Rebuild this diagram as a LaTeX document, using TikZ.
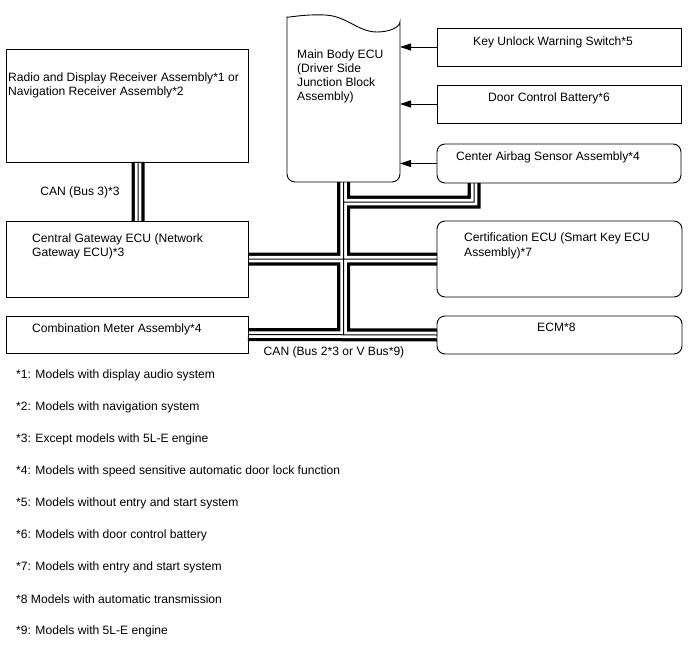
\documentclass[tikz,border=0pt]{standalone}
\usepackage{fontspec}
\setmainfont{Liberation Sans}
\usetikzlibrary{arrows.meta, positioning, backgrounds}

% all CAN bus runs, drawn three times (outer, gap, inner wire)
\newcommand{\canpaths}{%
  ([xshift=11pt]rad.south) -- ([xshift=11pt]gw.north)
  (gw.east) -- (cert.west)
  (cmb.east) -- (ecm.west)
  (ecu.south) -- (ecu.south |- cmb.east)
  ([xshift=-85pt]air.south) |- (abj)}

\begin{document}
\begin{tikzpicture}[
    x=1pt, y=1pt,
    box/.style={draw, line width=0.9pt, inner sep=0pt, outer sep=0pt, anchor=north west},
    rbox/.style={box, rounded corners=8pt},
    lbl/.style={anchor=west, align=left, inner sep=0pt, font=\fontsize{12.1}{14.5}\selectfont},
    sig/.style={-{Triangle[length=11pt, width=7pt]}, line width=0.8pt},
    canouter/.style={line width=13pt, black},
    canmid/.style={line width=6.5pt, white},
    caninner/.style={line width=1pt, black}
  ]
  \useasboundingbox (0,0) rectangle (688,-658);

  % left column
  \node[box, minimum width=242pt, minimum height=113pt] (rad) at (6,-49) {};
  \node[box, minimum width=242pt, minimum height=76pt, below=59pt of rad.south west, anchor=north west] (gw) {};
  \node[box, minimum width=242pt, minimum height=37pt, below=19pt of gw.south west, anchor=north west] (cmb) {};

  % main body ECU (outline drawn below)
  \node[inner sep=0pt, outer sep=0pt, anchor=north west, minimum width=113pt, minimum height=160pt] (ecu) at (287,-22) {};
  \draw[line width=0.9pt] ([yshift=-3pt]ecu.north west)
    .. controls +(0,7) and +(-22,1) .. ([xshift=38pt, yshift=7pt]ecu.north west)
    .. controls +(22,-1) and +(-19,0) .. ([xshift=90pt, yshift=-10pt]ecu.north west)
    .. controls +(13,0) and +(0,-5) .. (ecu.north east)
    [rounded corners=8pt] -- (ecu.south east) -- (ecu.south west) -- cycle;
  \coordinate (abj) at ([yshift=-20pt]ecu.south);

  % right column
  \node[box, minimum width=244pt, minimum height=38pt] (key) at (437,-28) {};
  \node[box, minimum width=244pt, minimum height=38pt, below=19pt of key.south west, anchor=north west] (door) {};
  \node[rbox, minimum width=244pt, minimum height=39pt, below=21pt of door.south west, anchor=north west] (air) {};
  \node[rbox, minimum width=245pt, minimum height=76pt, below=38pt of air.south west, anchor=north west] (cert) {};
  \node[rbox, minimum width=245pt, minimum height=38pt, below=19pt of cert.south west, anchor=north west] (ecm) {};

  % texts
  \node[lbl] (radtxt) at ([xshift=2pt, yshift=-36.5pt]rad.north west) {Radio and Display Receiver Assembly*1 or\\Navigation Receiver Assembly*2};
  \node[lbl] (gwtxt) at ([xshift=26pt, yshift=-25.5pt]gw.north west) {Central Gateway ECU (Network\\Gateway ECU)*3};
  \node[lbl] (cmbtxt) at ([xshift=26pt, yshift=-13pt]cmb.north west) {Combination Meter Assembly*4};
  \node[lbl, font=\fontsize{12.1}{14}\selectfont] (ecutxt) at ([xshift=10pt, yshift=-54pt]ecu.north west) {Main Body ECU\\(Driver Side\\Junction Block\\Assembly)};
  \node[lbl] (keytxt) at ([xshift=36pt, yshift=-14pt]key.north west) {Key Unlock Warning Switch*5};
  \node[lbl] (doortxt) at ([xshift=51pt, yshift=-13pt]door.north west) {Door Control Battery*6};
  \node[lbl] (airtxt) at ([xshift=19pt, yshift=-13pt]air.north west) {Center Airbag Sensor Assembly*4};
  \node[lbl] (certtxt) at ([xshift=27pt, yshift=-25pt]cert.north west) {Certification ECU (Smart Key ECU\\Assembly)*7};
  \node[lbl] (ecmtxt) at ([xshift=100pt, yshift=-11pt]ecm.north west) {ECM*8};

  % signal lines into the main body ECU
  \draw[sig] (key.west) -- (key.west -| ecu.east);
  \draw[sig] (door.west) -- (door.west -| ecu.east);
  \draw[sig] (air.west) -- (air.west -| ecu.east);

  % CAN bus
  \begin{scope}[on background layer]
    \foreach \layer in {canouter, canmid, caninner}
      \draw[\layer] \canpaths;
  \end{scope}
  \node[lbl, anchor=center] (can3) at ([xshift=-47pt, yshift=-30pt]rad.south) {CAN (Bus 3)*3};
  \node[lbl, anchor=center] (can2) at ([xshift=86pt, yshift=-17.5pt]cmb.east) {CAN (Bus 2*3 or V Bus*9)};

  % notes
  \foreach \txt [count=\i] in {
      {*1: Models with display audio system},
      {*2: Models with navigation system},
      {*3: Except models with 5L-E engine},
      {*4: Models with speed sensitive automatic door lock function},
      {*5: Models without entry and start system},
      {*6: Models with door control battery},
      {*7: Models with entry and start system},
      {*8 Models with automatic transmission},
      {*9: Models with 5L-E engine}}
    \node[lbl] (fn\i) at (16, {-343-32*\i}) {\txt};
\end{tikzpicture}
\end{document}
